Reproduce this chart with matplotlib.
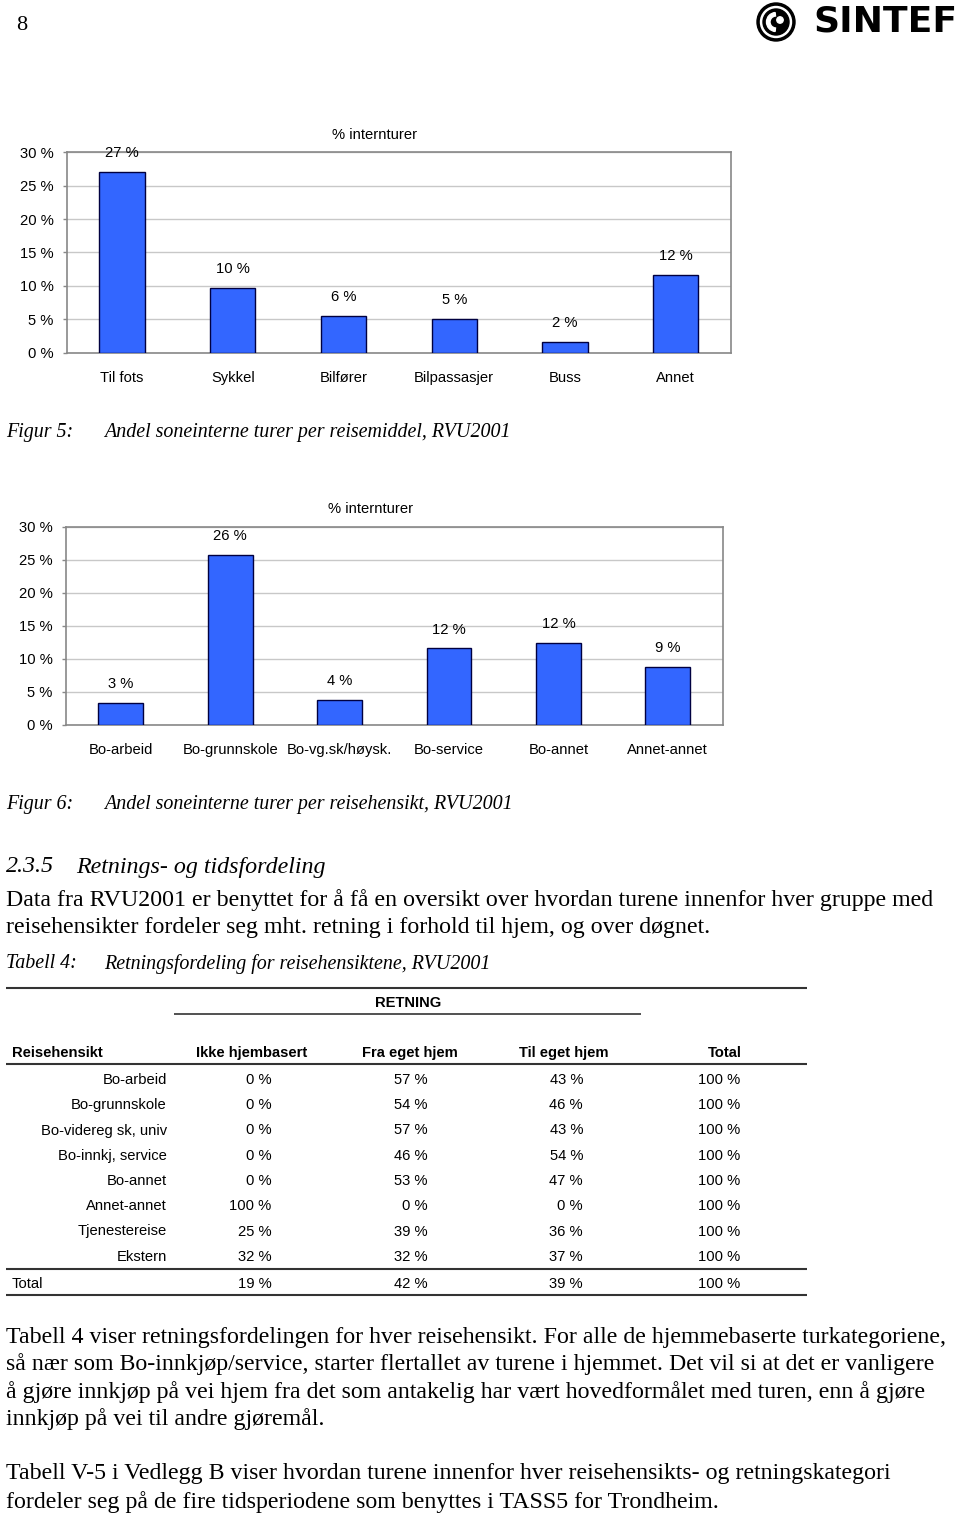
"""
Side 8 i SINTEF-rapport: to stolpediagram (andel soneinterne turer) og tabell 4.
"""

import matplotlib

matplotlib.use("Agg")
import matplotlib.pyplot as plt
from matplotlib.patches import Circle, Wedge

W, H = 960, 1518

SANS = ["Liberation Sans", "DejaVu Sans"]
SERIF = ["Liberation Serif", "DejaVu Serif"]

# Figur 5: andel soneinterne turer per reisemiddel
modes = ["Til fots", "Sykkel", "Bilfører", "Bilpassasjer", "Buss", "Annet"]
mode_share = [27.1, 9.7, 5.5, 5.1, 1.6, 11.6]
mode_labels = ["27 %", "10 %", "6 %", "5 %", "2 %", "12 %"]

# Figur 6: andel soneinterne turer per reisehensikt
purposes = ["Bo-arbeid", "Bo-grunnskole", "Bo-vg.sk/høysk.", "Bo-service", "Bo-annet", "Annet-annet"]
purpose_share = [3.3, 25.7, 3.8, 11.6, 12.4, 8.8]
purpose_labels = ["3 %", "26 %", "4 %", "12 %", "12 %", "9 %"]

y_ticks = [0, 5, 10, 15, 20, 25, 30]

# Tabell 4: retningsfordeling
table_header = ["Reisehensikt", "Ikke hjembasert", "Fra eget hjem", "Til eget hjem", "Total"]
table_rows = ["Bo-arbeid", "Bo-grunnskole", "Bo-videreg sk, univ", "Bo-innkj, service",
              "Bo-annet", "Annet-annet", "Tjenestereise", "Ekstern"]
ikke_hjembasert = [0, 0, 0, 0, 0, 100, 25, 32]
fra_eget_hjem = [57, 54, 57, 46, 53, 0, 39, 32]
til_eget_hjem = [43, 46, 43, 54, 47, 0, 36, 37]
rad_total = [100, 100, 100, 100, 100, 100, 100, 100]
total_row = [19, 42, 39, 100]

fig = plt.figure(figsize=(W / 100, H / 100), dpi=100)
fig.patch.set_facecolor("white")

# page axes in pixel coordinates (y downwards)
page = fig.add_axes([0, 0, 1, 1])
page.set_xlim(0, W)
page.set_ylim(H, 0)
page.axis("off")

BODY = 17.2
CAP = 14.4
CHART = 10.6
TAB = 10.6


def ptext(x, y, s, size=BODY, family=SERIF, **kw):
    page.text(x, y, s, fontsize=size, family=family, va="center", **kw)


def hline(x0, x1, y, lw=1.5, color="#333333"):
    page.plot([x0, x1], [y, y], color=color, lw=lw, solid_capstyle="butt")


def bar_chart(left, top, right, bottom, cats, vals, labels, title_x, title_y):
    ax = fig.add_axes([left / W, 1 - bottom / H, (right - left) / W, (bottom - top) / H])
    pos = list(range(len(cats)))
    ax.bar(pos, vals, width=0.41, color="#3366FF", edgecolor="#000040", linewidth=1.0, zorder=3)
    ax.set_xlim(-0.5, len(cats) - 0.5)
    ax.set_ylim(0, 30)
    ax.set_yticks(y_ticks)
    ax.set_yticklabels([f"{v} %" for v in y_ticks], family=SANS, fontsize=CHART)
    ax.set_xticks(pos)
    ax.set_xticklabels(cats, family=SANS, fontsize=CHART)
    ax.grid(axis="y", color="#C8C8C8", linewidth=1.0, zorder=0)
    for sp in ax.spines.values():
        sp.set_color("#888888")
        sp.set_linewidth(1.2)
    ax.tick_params(axis="y", length=3, width=1, color="#888888", pad=6.5)
    ax.tick_params(axis="x", length=0, pad=13)
    for p, v, lab in zip(pos, vals, labels):
        ax.annotate(lab, (p, v), xytext=(0, 13.5), textcoords="offset points",
                    ha="center", va="center", family=SANS, fontsize=CHART)
    ptext(title_x, title_y, "% internturer", size=CHART, family=SANS, ha="center")
    return ax


# header: page number and logo
ptext(16, 25, "8", size=16)
page.add_patch(Circle((776, 22), 19, color="black"))
page.add_patch(Circle((776, 22), 15.5, color="white"))
page.add_patch(Circle((776, 22), 13, color="black"))
page.add_patch(Wedge((776, 22), 9.5, 95, 265, width=3.5, color="white"))
page.add_patch(Circle((780, 20), 3.2, color="white"))
ptext(885, 22, "SINTEF", size=26, family=["DejaVu Sans"], ha="center", fontweight="bold")

# Figur 5
bar_chart(66.7, 152.3, 731, 352.7, modes, mode_share, mode_labels, 375, 135)
ptext(6, 433, "Figur 5:", size=CAP, style="italic")
ptext(104, 433, "Andel soneinterne turer per reisemiddel, RVU2001", size=CAP, style="italic")

# Figur 6
bar_chart(66, 526.7, 722.5, 725, purposes, purpose_share, purpose_labels, 371, 509)
ptext(6, 805, "Figur 6:", size=CAP, style="italic")
ptext(104, 805, "Andel soneinterne turer per reisehensikt, RVU2001", size=CAP, style="italic")

# section text
ptext(6, 867, "2.3.5", size=17.3, style="italic")
ptext(76, 867, "Retnings- og tidsfordeling", size=17.3, style="italic")
ptext(6, 900, "Data fra RVU2001 er benyttet for å få en oversikt over hvordan turene innenfor hver gruppe med")
ptext(6, 927, "reisehensikter fordeler seg mht. retning i forhold til hjem, og over døgnet.")
ptext(6, 964, "Tabell 4:", size=CAP, style="italic")
ptext(104, 964, "Retningsfordeling for reisehensiktene, RVU2001", size=CAP, style="italic")

# Tabell 4
hline(6, 807, 988)
ptext(408, 1003, "RETNING", size=TAB, family=SANS, ha="center", fontweight="bold")
hline(174, 641, 1014, lw=1.2)
ptext(12, 1053, table_header[0], size=TAB, family=SANS, fontweight="bold")
for hx, h in zip([252, 410, 564, 725], table_header[1:]):
    ptext(hx, 1053, h, size=TAB, family=SANS, ha="center", fontweight="bold")
hline(6, 807, 1064)

col_right = [271.5, 428, 583, 740]
row_y0, row_dy = 1080, 25.25
for i, name in enumerate(table_rows):
    y = row_y0 + i * row_dy
    ptext(167, y, name, size=TAB, family=SANS, ha="right")
    for cx, col in zip(col_right, [ikke_hjembasert, fra_eget_hjem, til_eget_hjem, rad_total]):
        ptext(cx, y, f"{col[i]} %", size=TAB, family=SANS, ha="right")
hline(6, 807, 1269)
ptext(12, 1284, "Total", size=TAB, family=SANS)
for cx, v in zip(col_right, total_row):
    ptext(cx, 1284, f"{v} %", size=TAB, family=SANS, ha="right")
hline(6, 807, 1295)

# closing paragraphs
para = [
    "Tabell 4 viser retningsfordelingen for hver reisehensikt. For alle de hjemmebaserte turkategoriene,",
    "så nær som Bo-innkjøp/service, starter flertallet av turene i hjemmet. Det vil si at det er vanligere",
    "å gjøre innkjøp på vei hjem fra det som antakelig har vært hovedformålet med turen, enn å gjøre",
    "innkjøp på vei til andre gjøremål.",
]
for i, line in enumerate(para):
    ptext(6, 1337 + i * 27.4, line)
ptext(6, 1474, "Tabell V-5 i Vedlegg B viser hvordan turene innenfor hver reisehensikts- og retningskategori")
ptext(6, 1502, "fordeler seg på de fire tidsperiodene som benyttes i TASS5 for Trondheim.")

fig.savefig("out.png", dpi=100, facecolor="white")
